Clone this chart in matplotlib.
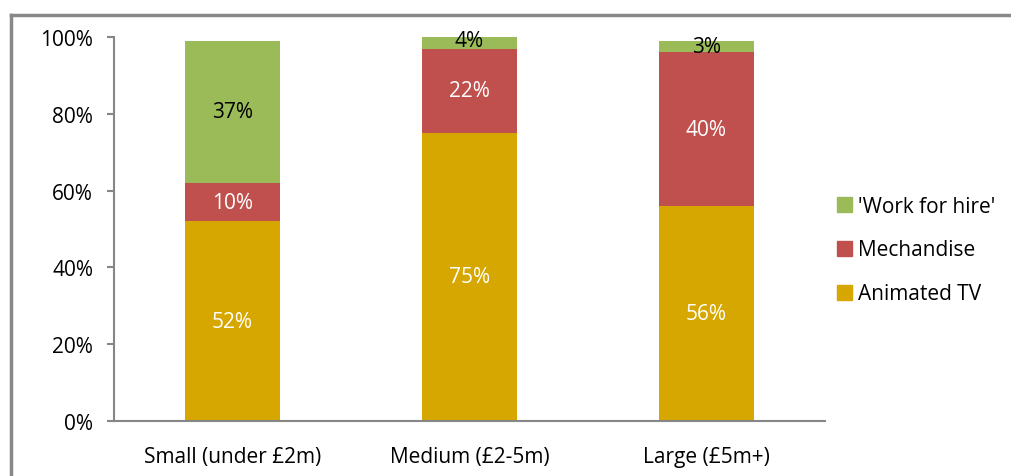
import numpy as np
import matplotlib.pyplot as plt
from matplotlib.lines import Line2D
from matplotlib.patches import Patch

categories = ['Small (under £2m)', 'Medium (£2-5m)', 'Large (£5m+)']
animated_tv = [52, 75, 56]
mechandise = [10, 22, 40]
work_for_hire = [37, 4, 3]
y_ticks = [0, 20, 40, 60, 80, 100]

col_tv = '#D6A700'
col_mech = '#C0504D'
col_work = '#9BBB59'
axis_grey = '#868686'

plt.rcParams['font.family'] = ['Open Sans', 'DejaVu Sans']
fs = 15

fig = plt.figure(figsize=(10.11, 4.77), dpi=100)
ax = fig.add_axes([114 / 1011, 55 / 477, 711 / 1011, 384 / 477])

x = np.arange(len(categories))
w = 0.4
b1 = ax.bar(x, animated_tv, w, color=col_tv, label='Animated TV')
bottom2 = np.array(animated_tv)
b2 = ax.bar(x, mechandise, w, bottom=bottom2, color=col_mech, label='Mechandise')
bottom3 = bottom2 + np.array(mechandise)
b3 = ax.bar(x, work_for_hire, w, bottom=bottom3, color=col_work, label="'Work for hire'")

for i in range(len(categories)):
    ax.text(x[i], animated_tv[i] / 2, '%d%%' % animated_tv[i], ha='center', va='center',
            color='white', fontsize=fs)
    ax.text(x[i], bottom2[i] + mechandise[i] / 2, '%d%%' % mechandise[i], ha='center',
            va='center', color='white', fontsize=fs)
    ax.text(x[i], bottom3[i] + work_for_hire[i] / 2, '%d%%' % work_for_hire[i], ha='center',
            va='center', color='black', fontsize=fs)

ax.set_xlim(-0.5, 2.5)
ax.set_ylim(0, 100)
ax.set_yticks(y_ticks)
ax.set_yticklabels(['%d%%' % t for t in y_ticks])
ax.set_xticks(x)
ax.set_xticklabels(categories)
ax.tick_params(axis='y', length=5, width=1.5, color=axis_grey, pad=10, labelsize=fs)
ax.tick_params(axis='x', length=0, pad=18, labelsize=fs)

for s in ['top', 'right']:
    ax.spines[s].set_visible(False)
for s in ['left', 'bottom']:
    ax.spines[s].set_color(axis_grey)
    ax.spines[s].set_linewidth(1.5)

handles = [Patch(color=col_work), Patch(color=col_mech), Patch(color=col_tv)]
labels = ["'Work for hire'", 'Mechandise', 'Animated TV']
fig.legend(handles, labels, loc='center left', bbox_to_anchor=(818 / 1011, 1 - 251 / 477),
           frameon=False, fontsize=fs, handlelength=0.75, handleheight=0.75,
           handletextpad=0.25, labelspacing=1.1)

# outer frame (top and left edges)
fig.add_artist(Line2D([11 / 1011, 1], [1 - 16 / 477, 1 - 16 / 477], color='#888888', lw=2.5))
fig.add_artist(Line2D([11 / 1011, 11 / 1011], [0, 1 - 16 / 477], color='#888888', lw=2.5))

fig.savefig('out.png', dpi=100)
